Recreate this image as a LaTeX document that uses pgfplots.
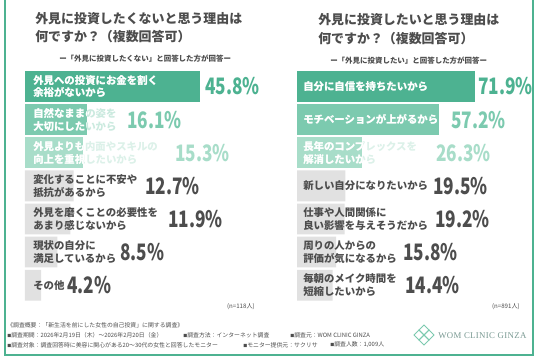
\documentclass[border=0pt]{standalone}
\usepackage{pgfplots}
\pgfplotsset{compat=1.18}
\usepackage{graphicx}
\usepackage{fontspec}
\setmainfont{Noto Sans CJK JP}
\newfontfamily\logofont{Liberation Serif}[LetterSpace=4.0]
\definecolor{tdark}{HTML}{4DB291}
\definecolor{tmid}{HTML}{7CCAAF}
\definecolor{tlight}{HTML}{A8DDC9}
\definecolor{gbar}{HTML}{E1E1E1}
\definecolor{gtext}{HTML}{4D4D4D}
\definecolor{logotxt}{HTML}{7A9A93}
\newcommand{\lbfont}{\fontsize{7.8}{9.6}\selectfont\bfseries}
\newcommand{\pct}[1]{\scalebox{0.76}[1]{\fontsize{17}{17}\selectfont\bfseries #1}}
\newcommand{\lblshift}{6pt}
% #1 index, #2 value, #3 bar colour, #4 text
\newcommand{\tlabel}[4]{%
  \node[anchor=west,inner sep=0pt,xshift=\lblshift,text=#3!40!white,align=left,font=\lbfont] at (axis cs:0,#1) {#4};
  \begin{scope}
    \clip (axis cs:0,#1-0.5) rectangle (axis cs:#2,#1+0.5);
    \node[anchor=west,inner sep=0pt,xshift=\lblshift,text=white,align=left,font=\lbfont] at (axis cs:0,#1) {#4};
  \end{scope}}
\newcommand{\glabel}[2]{%
  \node[anchor=west,inner sep=0pt,xshift=\lblshift,text=gtext,align=left,font=\lbfont] at (axis cs:0,#1) {#2};}
\newcommand{\plabel}[4]{% index, x position, colour, text
  \node[anchor=west,inner sep=0pt,text=#3] at (axis cs:#2,#1) {\pct{#4}};}
\pgfplotsset{panel/.style={scale only axis, hide axis, xbar, bar shift=0pt, bar width=0.93,
  y dir=reverse, ymin=0.5, ymax=7.5, xmin=0, clip=false, height=173.8pt, anchor=north west}}
\begin{document}
\begin{tikzpicture}[x=0.75pt,y=-0.75pt]
\useasboundingbox (0,0) rectangle (536,357);
\fill[white] (0,0) rectangle (536,357);
\draw[tdark, line width=1.5pt] (4.7,-2) -- (4.7,354.7) -- (533.3,354.7) -- (533.3,-2);
% titles
\node[anchor=base west,inner sep=0pt,font=\fontsize{9.7}{11}\selectfont\bfseries,text=gtext] at (35,23.4) {外見に投資したくないと思う理由は};
\node[anchor=base west,inner sep=0pt,font=\fontsize{9.7}{11}\selectfont\bfseries,text=gtext] at (35,41.6) {何ですか？（複数回答可）};
\node[anchor=base west,inner sep=0pt,font=\fontsize{9.7}{11}\selectfont\bfseries,text=gtext] at (318,25) {外見に投資したいと思う理由は};
\node[anchor=base west,inner sep=0pt,font=\fontsize{9.7}{11}\selectfont\bfseries,text=gtext] at (318,43.3) {何ですか？（複数回答可）};
\node[anchor=west,inner sep=0pt,font=\fontsize{5.6}{6}\selectfont\bfseries,text=gtext] at (59,59) {ー「外見に投資したくない」と回答した方が回答ー};
\node[anchor=west,inner sep=0pt,font=\fontsize{5.6}{6}\selectfont\bfseries,text=gtext] at (330,61) {ー「外見に投資したい」と回答した方が回答ー};
% left panel
\begin{axis}[panel, at={(18.75pt,-52.5pt)}, width=171.9pt, xmax=60]
\addplot[fill=tdark,draw=none] coordinates {(45.8,1)};
\addplot[fill=tmid,draw=none] coordinates {(16.1,2)};
\addplot[fill=tlight,draw=none] coordinates {(15.3,3)};
\addplot[fill=gbar,draw=none] coordinates {(12.7,4) (11.9,5) (8.5,6) (4.2,7)};
\pgfplotsextra{%
  \renewcommand{\lblshift}{6pt}%
  \tlabel{1}{45.8}{tdark}{外見への投資にお金を割く\\余裕がないから}
  \tlabel{2}{16.1}{tmid}{自然なままの姿を\\大切にしたいから}
  \tlabel{3}{15.3}{tlight}{外見よりも内面やスキルの\\向上を重視したいから}
  \glabel{4}{変化することに不安や\\抵抗があるから}
  \glabel{5}{外見を磨くことの必要性を\\あまり感じないから}
  \glabel{6}{現状の自分に\\満足しているから}
  \glabel{7}{その他}
  \plabel{1}{47.1}{tdark}{45.8\%}
  \plabel{2}{26.7}{tmid}{16.1\%}
  \plabel{3}{39.3}{tlight}{15.3\%}
  \plabel{4}{31.4}{gtext}{12.7\%}
  \plabel{5}{37.4}{gtext}{11.9\%}
  \plabel{6}{24.8}{gtext}{8.5\%}
  \plabel{7}{11.0}{gtext}{4.2\%}
}
\end{axis}
% right panel
\begin{axis}[panel, at={(222.75pt,-52.5pt)}, width=148.8pt, xmax=80]
\addplot[fill=tdark,draw=none] coordinates {(71.9,1)};
\addplot[fill=tmid,draw=none] coordinates {(57.2,2)};
\addplot[fill=tlight,draw=none] coordinates {(26.3,3)};
\addplot[fill=gbar,draw=none] coordinates {(19.5,4) (19.2,5) (15.8,6) (14.4,7)};
\pgfplotsextra{%
  \renewcommand{\lblshift}{4.5pt}%
  \tlabel{1}{71.9}{tdark}{自分に自信を持ちたいから}
  \tlabel{2}{57.2}{tmid}{モチベーションが上がるから}
  \tlabel{3}{26.3}{tlight}{長年のコンプレックスを\\解消したいから}
  \glabel{4}{新しい自分になりたいから}
  \glabel{5}{仕事や人間関係に\\良い影響を与えそうだから}
  \glabel{6}{周りの人からの\\評価が気になるから}
  \glabel{7}{毎朝のメイク時間を\\短縮したいから}
  \plabel{1}{73.0}{tdark}{71.9\%}
  \plabel{2}{62.1}{tmid}{57.2\%}
  \plabel{3}{56.0}{tlight}{26.3\%}
  \plabel{4}{54.8}{gtext}{19.5\%}
  \plabel{5}{55.6}{gtext}{19.2\%}
  \plabel{6}{42.7}{gtext}{15.8\%}
  \plabel{7}{43.5}{gtext}{14.4\%}
}
\end{axis}
% sample sizes
\node[anchor=east,inner sep=0pt,font=\fontsize{4.6}{5}\selectfont,text=gtext] at (255,307) {(n=118人)};
\node[anchor=east,inner sep=0pt,font=\fontsize{4.6}{5}\selectfont,text=gtext] at (520,307) {(n=891人)};
% footer
\begin{scope}[every node/.style={anchor=west,inner sep=0pt,font=\fontsize{4.4}{5}\selectfont,text=gtext}]
\node at (7,325) {《調査概要：「新生活を前にした女性の自己投資」に関する調査》};
\node at (7,335) {{\fontsize{3}{3}\selectfont■}調査期間：2026年2月19日（木）～2026年2月20日（金）};
\node at (183,335) {{\fontsize{3}{3}\selectfont■}調査方法：インターネット調査};
\node at (290,335) {{\fontsize{3}{3}\selectfont■}調査元：WOM CLINIC GINZA};
\node at (7,345) {{\fontsize{3}{3}\selectfont■}調査対象：調査回答時に美容に関心がある20～30代の女性と回答したモニター};
\node at (243,345) {{\fontsize{3}{3}\selectfont■}モニター提供元：サクリサ};
\node at (330,345) {{\fontsize{3}{3}\selectfont■}調査人数：1,009人};
\end{scope}
% logo
\foreach \a in {0,90,180,270}{
  \draw[tmid,line width=0.6pt,rotate around={\a:(424,335)}] (424,335) -- (429,330) -- (434,335) -- (429,340) -- cycle;
}
\node[anchor=west,inner sep=0pt,font=\logofont\fontsize{6.6}{7}\selectfont,text=logotxt] at (438,335.5) {WOM CLINIC GINZA};
\end{tikzpicture}
\end{document}
